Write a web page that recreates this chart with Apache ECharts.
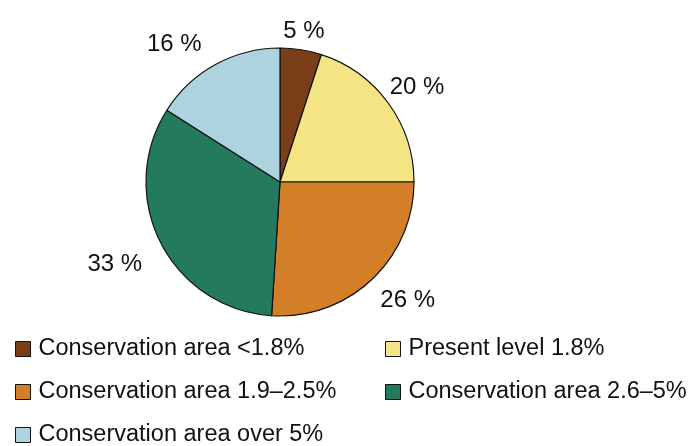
<!DOCTYPE html>
<html>
<head>
<meta charset="utf-8">
<script src="https://cdn.jsdelivr.net/npm/echarts@6/dist/echarts.min.js"></script>
<style>
  html, body { margin: 0; padding: 0; background: #fff; }
  #chart { width: 694px; height: 446px; }
</style>
</head>
<body>
<div id="chart"></div>
<script>
// Share of each conservation-area class (percent)
const categories = [
  'Conservation area <1.8%',
  'Present level 1.8%',
  'Conservation area 1.9–2.5%',
  'Conservation area 2.6–5%',
  'Conservation area over 5%'
];
const shares = [5, 20, 26, 33, 16];
const colors = ['#7B3F17', '#F5E484', '#D37F27', '#247A5E', '#ADD3DF'];

const chart = echarts.init(document.getElementById('chart'), null, { renderer: 'canvas' });

const legendText = {
  fontFamily: '"Liberation Sans", Arial, sans-serif',
  fontSize: 23.5,
  lineHeight: 23,
  color: '#111',
  padding: [0, 0, 0, 3]
};
const legendCommon = {
  orient: 'vertical',
  icon: 'rect',
  itemWidth: 15,
  itemHeight: 15,
  itemGap: 19,
  padding: 0,
  height: 120,
  textStyle: legendText,
  itemStyle: { borderColor: '#111', borderWidth: 1 },
  selectedMode: false
};

// small shifts of the outside labels away from the default radial spot
const labelShift = [[-29, -4], [-19, -8], [-10, 10], [3, 15], [2, -8]];

chart.setOption({
  animation: false,
  backgroundColor: '#fff',
  color: colors,
  legend: [
    Object.assign({}, legendCommon, { left: 15, top: 337, data: [categories[0], categories[2], categories[4]] }),
    Object.assign({}, legendCommon, { left: 385, top: 337, data: [categories[1], categories[3]] })
  ],
  series: [{
    type: 'pie',
    center: [280, 182],
    radius: 134,
    startAngle: 90,
    clockwise: true,
    itemStyle: { borderColor: '#111', borderWidth: 1.2 },
    label: {
      show: true,
      position: 'outside',
      formatter: p => p.value + ' %',
      fontFamily: '"Liberation Sans", Arial, sans-serif',
      fontSize: 24,
      color: '#111'
    },
    labelLine: { show: false, length: 14, length2: 4 },
    labelLayout: p => ({ dx: labelShift[p.dataIndex][0], dy: labelShift[p.dataIndex][1] }),
    emphasis: { disabled: true },
    data: categories.map((name, i) => ({ name, value: shares[i] }))
  }]
});
</script>
</body>
</html>
